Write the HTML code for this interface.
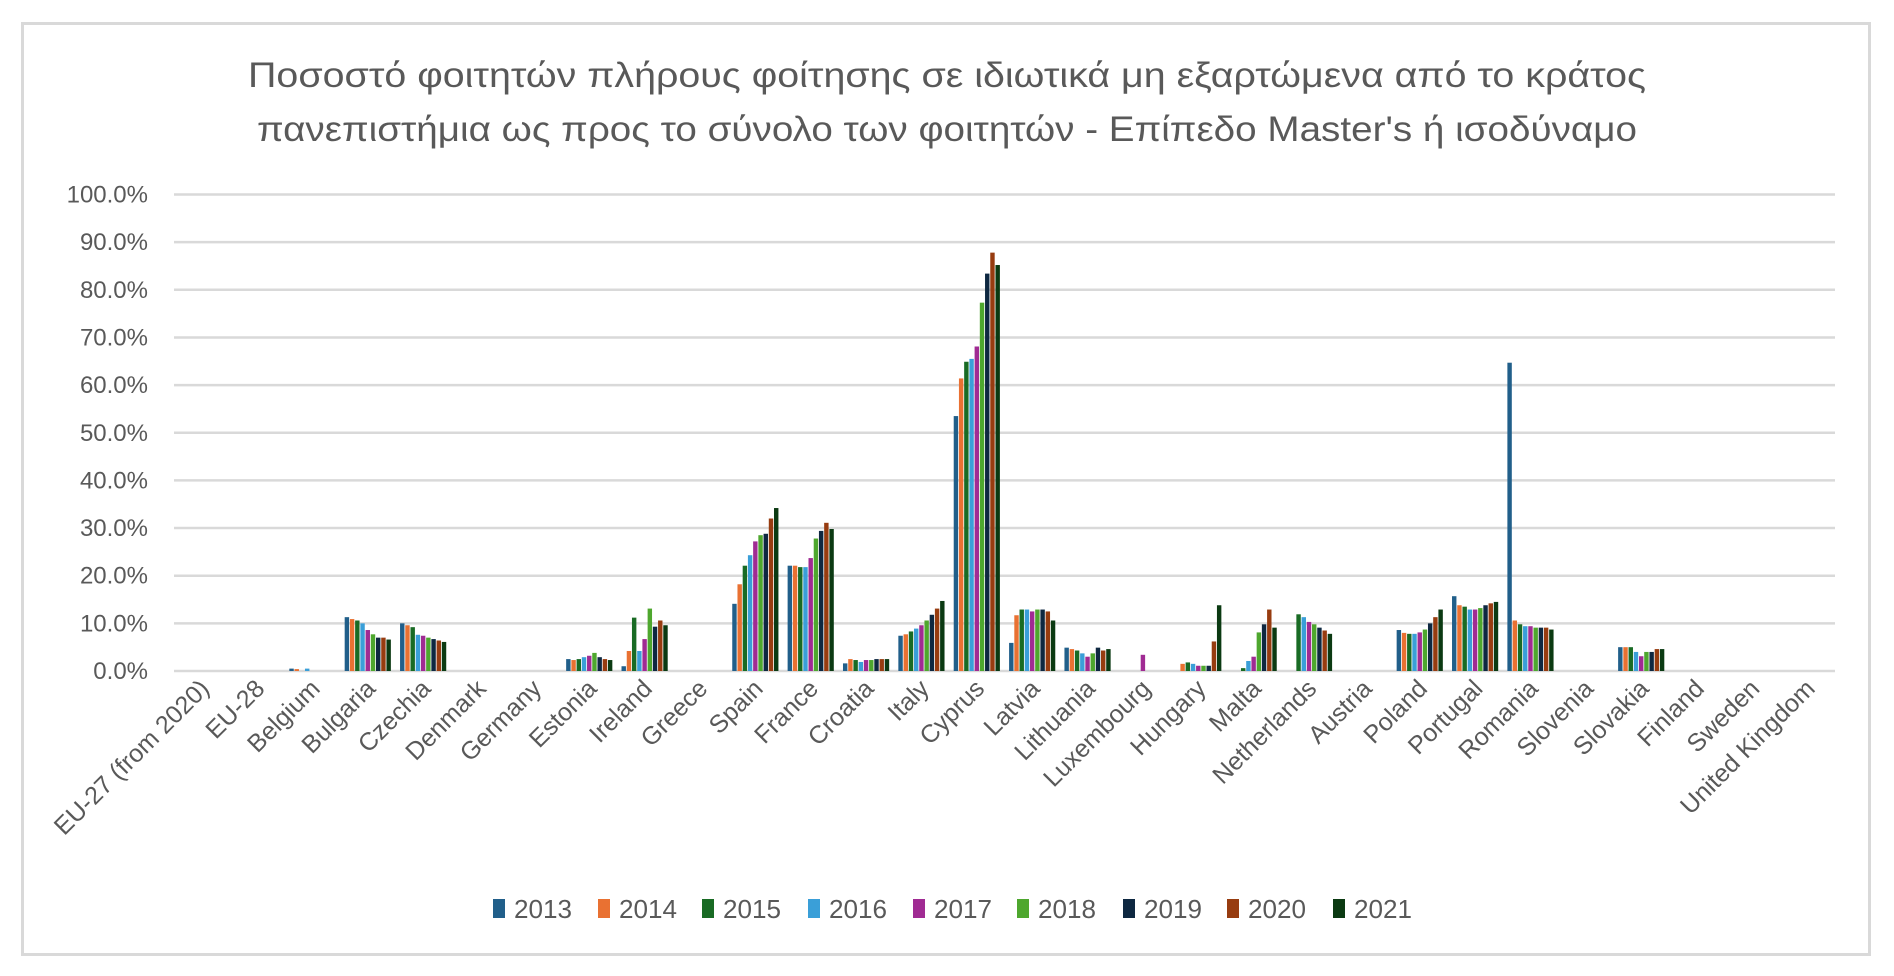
<!DOCTYPE html>
<html><head><meta charset="utf-8">
<style>
html,body{margin:0;padding:0;background:#fff;}
svg{display:block;}
text{font-family:"Liberation Sans","DejaVu Sans",sans-serif;fill:#595959;}
</style></head>
<body>
<svg id="c" width="1894" height="976" viewBox="0 0 1894 976" xmlns="http://www.w3.org/2000/svg">
<rect x="0" y="0" width="1894" height="976" fill="#fff"/>
<rect x="22.5" y="23.5" width="1847" height="931" fill="none" stroke="#d9d9d9" stroke-width="3"/>
<text x="947" y="87" text-anchor="middle" font-size="35" textLength="1398" lengthAdjust="spacingAndGlyphs">Ποσοστό φοιτητών πλήρους φοίτησης σε ιδιωτικά μη εξαρτώμενα από το κράτος</text>
<text x="947" y="141" text-anchor="middle" font-size="35" textLength="1380" lengthAdjust="spacingAndGlyphs">πανεπιστήμια  ως προς το σύνολο των φοιτητών - Επίπεδο Master's ή ισοδύναμο</text>
<g id="grid"></g>
<g id="bars"></g>
<g id="xl"></g>
<g id="leg"></g>
</svg>
<script>
var NS="http://www.w3.org/2000/svg";
function el(t,a,p,txt){var e=document.createElementNS(NS,t);for(var k in a)e.setAttribute(k,a[k]);if(txt!==undefined)e.textContent=txt;document.getElementById(p).appendChild(e);return e;}
var L=174,R=1835,Y0=671,Y100=194.5;
function y(v){return Y0-(Y0-Y100)*v/100;}
for(var i=0;i<=10;i++){var yy=y(i*10);
 el('line',{x1:L,x2:R,y1:yy,y2:yy,stroke:'#d9d9d9','stroke-width':2.5},'grid');
 el('text',{x:148,y:yy+8,'text-anchor':'end','font-size':24},'grid',(i*10).toFixed(1)+'%');}
var cats=["EU-27 (from 2020)","EU-28","Belgium","Bulgaria","Czechia","Denmark","Germany","Estonia","Ireland","Greece","Spain","France","Croatia","Italy","Cyprus","Latvia","Lithuania","Luxembourg","Hungary","Malta","Netherlands","Austria","Poland","Portugal","Romania","Slovenia","Slovakia","Finland","Sweden","United Kingdom"];
var cols=["#215f8a","#e97132","#196b24","#3a9fd8","#a02b93","#4ea72e","#0e2841","#973c10","#0b3a12"];
var d={
2:[0.5,0.4,0,0.5,0,0,0,0,0],
3:[11.3,10.9,10.6,10,8.6,7.7,7,7,6.6],
4:[10,9.6,9.2,7.6,7.4,7,6.7,6.4,6.1],
7:[2.5,2.3,2.5,2.9,3.2,3.8,2.9,2.5,2.3],
8:[1.0,4.2,11.2,4.2,6.7,13.1,9.3,10.6,9.6],
10:[14.1,18.2,22.1,24.3,27.2,28.5,28.8,32.0,34.2],
11:[22.1,22.1,21.8,21.8,23.7,27.8,29.4,31.1,29.8],
12:[1.6,2.5,2.3,1.9,2.3,2.3,2.5,2.5,2.5],
13:[7.4,7.7,8.3,8.9,9.6,10.6,11.8,13.1,14.7],
14:[53.5,61.4,64.9,65.5,68.1,77.3,83.4,87.8,85.2],
15:[5.9,11.7,12.9,12.9,12.5,12.9,12.9,12.5,10.6],
16:[4.9,4.6,4.3,3.7,3.0,3.7,4.9,4.3,4.6],
17:[0,0,0,0,3.4,0,0,0,0],
18:[0,1.5,1.8,1.5,1.1,1.1,1.1,6.2,13.8],
19:[0,0,0.6,2.1,3.0,8.1,9.8,12.9,9.1],
20:[0,0,11.9,11.3,10.3,9.8,9.1,8.5,7.8],
22:[8.6,8.0,7.8,7.8,8.1,8.7,10.0,11.3,12.9],
23:[15.7,13.8,13.5,12.9,12.9,13.2,13.8,14.2,14.5],
24:[64.7,10.6,9.8,9.4,9.4,9.1,9.1,9.1,8.7],
26:[5.0,5.0,5.0,4.0,3.1,4.0,4.0,4.6,4.6]
};
var cw=(R-L)/30,bw=5.22;
for(var c=0;c<30;c++){
 var cx=L+(c+0.5)*cw;
 if(d[c]){for(var k=0;k<9;k++){var v=d[c][k];if(v<=0)continue;
  var x=cx-23.5+k*bw;
  el('rect',{x:x+0.4,y:y(v),width:bw-0.8,height:Y0-y(v),fill:cols[k]},'bars');}}
 var tx=cx+9,ty=690;
 el('text',{x:tx,y:ty,'text-anchor':'end','font-size':25,transform:'rotate(-45 '+tx+' '+ty+')'},'xl',cats[c]);
}
var lx=[493,598,702,808,913,1017,1123,1227,1333];
for(var k=0;k<9;k++){
 el('rect',{x:lx[k],y:899,width:12,height:19,fill:cols[k]},'leg');
 el('text',{x:lx[k]+21,y:918,'font-size':26,textLength:58,lengthAdjust:'spacingAndGlyphs'},'leg',String(2013+k));
}
</script>
</body></html>
